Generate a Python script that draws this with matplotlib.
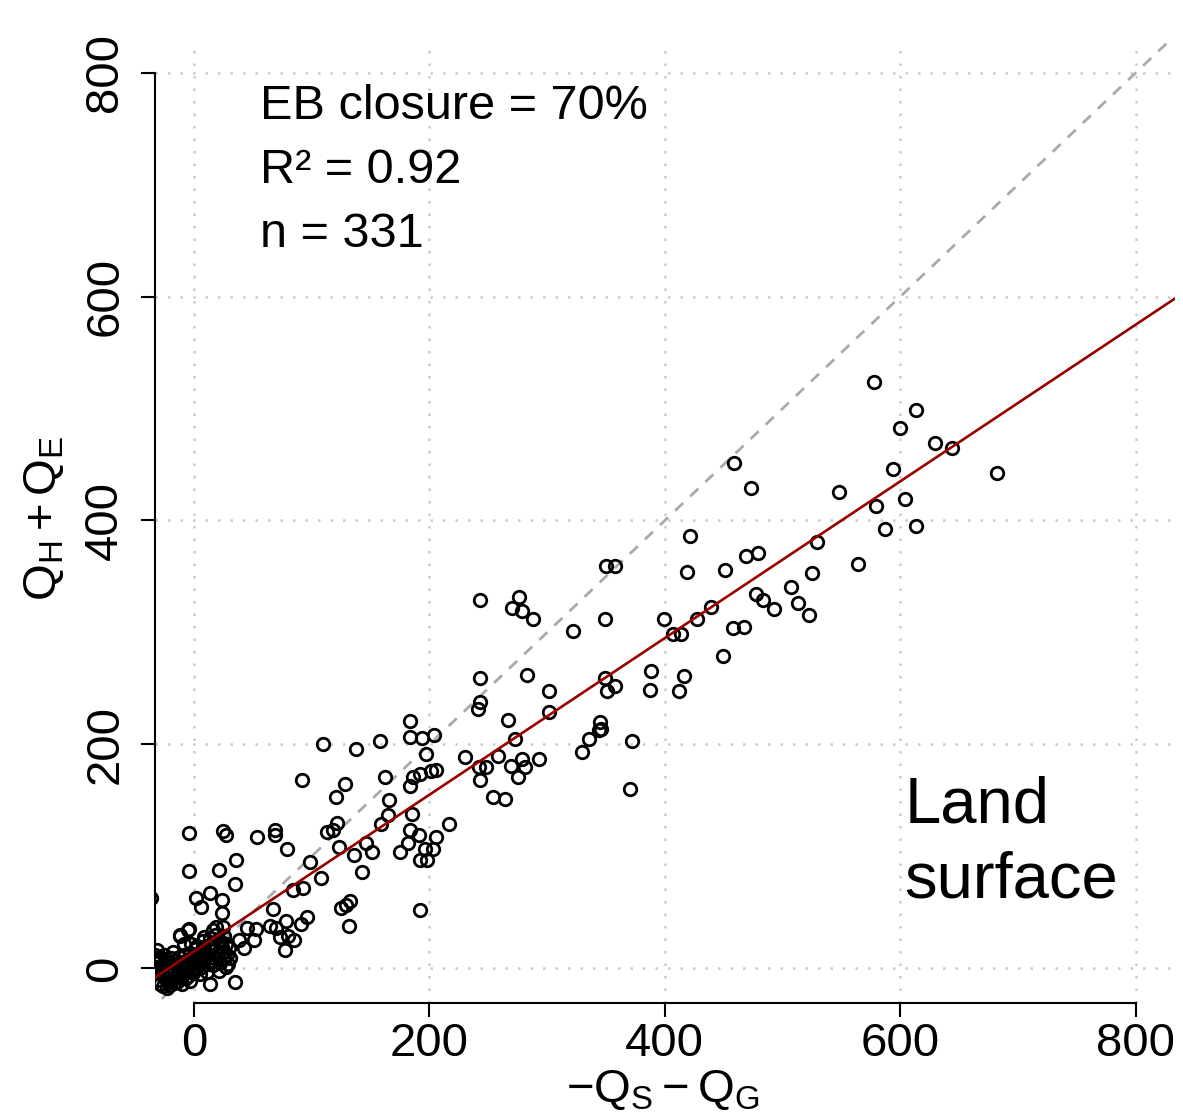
import numpy as np
import matplotlib
matplotlib.use("Agg")
import matplotlib.pyplot as plt

plt.rcParams['font.family'] = ['Liberation Sans', 'DejaVu Sans']
plt.rcParams['mathtext.fontset'] = 'custom'
plt.rcParams['mathtext.rm'] = 'Liberation Sans'
plt.rcParams['mathtext.it'] = 'Liberation Sans'

# available energy (-QS - QG) vs turbulent fluxes (QH + QE), W m-2
avail = [578, 613, 600, 629, 644, 682, 594, 548, 579, 604, 587, 613, 459, 473, 421, 529, 469, 479, 419, 451,
         525, 564, 507, 477, 483, 493, 513, 522, 439, 399, 427, 407, 414, 458, 467, 449, 388, 416, 387, 412,
         350, 358, 243, 276, 270, 279, 288, 349, 322, 243, 283, 243, 241, 302, 302, 349, 351, 358, 267, 273,
         345, 346, 344, 336, 330, 372, 370, 230, 258, 242, 248, 243, 269, 279, 281, 275, 293, 254, 264, 217,
         184, 184, 194, 204, 110, 138, 158, 197, 186, 192, 201, 206, 184, 162, 92, 128, 121, 166, 165, 159,
         185, 184, 191, 206, 122, 118, 113, 146, 151, 123, 136, 175, 182, 196, 203, 192, 198, 143, 99, 108,
         -4, -4, 25, 27, 54, 69, 69, 79, 36, 21, 35, 2, 14, 6, 24, 24, 84, 93, 67, 38,
         43, 45, 53, 51, 65, 70, 78, 96, 91, 73, 80, 85, 77, 14, 35, 125, 129, 133, 132, 192, -36,
         -12, -5, -18, -8, -2, -29, -25, -16, 9, 16, 19, 25, 9, 15, 21, 26, 5, 12, 18, 24,
         1, 9, 16, 28, 29, -8, -2, -13, -19, -25, -30, 26, 21, 5, -3, -10, -4, -12, 27,
         -32, -30, -28, -27, -26, -24, -23, -22, -21, -20, -19, -17, -16, -15, -14, -13, -12, -11, -10, -9,
         -8, -7, -6, -5, -4, -3, -2, -1, 0, 1, 2, 3, 4, 6, 7, 8, 10, 11, 12, 13,
         14, 17, 18, 20, 22, 23, 25, 27, 30, 31, -31, -29, -26, -23, -20, -17, -14, -33, -33, -31]
turb = [524, 499, 483, 469, 465, 442, 446, 425, 413, 419, 392, 395, 451, 429, 386, 381, 368, 371, 354, 356,
        353, 361, 341, 334, 329, 321, 326, 316, 323, 312, 312, 299, 299, 304, 305, 279, 266, 261, 249, 248,
        359, 359, 329, 332, 322, 319, 312, 312, 301, 259, 262, 238, 232, 248, 229, 259, 248, 252, 222, 205,
        220, 214, 213, 205, 193, 203, 160, 189, 190, 180, 180, 168, 181, 187, 180, 171, 187, 153, 151, 129,
        221, 207, 206, 208, 200, 196, 203, 191, 171, 174, 176, 177, 163, 171, 168, 165, 153, 150, 137, 129,
        138, 124, 119, 117, 130, 124, 122, 112, 104, 108, 101, 104, 112, 107, 107, 97, 97, 86, 95, 81,
        121, 87, 123, 119, 117, 124, 119, 107, 97, 88, 75, 63, 67, 55, 61, 49, 70, 72, 53, 25,
        18, 36, 35, 25, 38, 36, 42, 46, 40, 28, 29, 25, 16, -14, -12, 54, 57, 60, 38, 52, 63,
        30, 34, 15, 22, 22, 10, 12, 7, 28, 34, 37, 37, 19, 22, 25, 29, 12, 13, 16, 19,
        6, 7, 3, 12, 4, 1, -2, -3, -11, -8, -3, 9, -2, -5, -11, -14, 35, 29, 1,
        5, 8, 0, -5, 3, -2, 6, -12, 2, -6, 9, -2, -9, 4, -6, 10, 0, -8, 6, -4,
        12, -9, 3, -7, 8, 14, 5, -4, 10, 17, -1, 20, 4, 15, 1, 24, 10, -3, 20, 6,
        27, 9, 30, 12, 5, 23, 15, 22, 18, 9, -10, -14, -16, -18, -15, -13, -12, 0, 12, 16]

closure = 0.70
intercept = 15
r2 = 0.92
n_obs = 331
ticks = [0, 200, 400, 600, 800]

fig = plt.figure(figsize=(11.83, 11.15), dpi=100)
ax = fig.add_axes([0.131, 0.1004, 0.862, 0.8626])
ax.set_xlim(-33, 833)
ax.set_ylim(-31, 828)

# dotted grid
for t in ticks:
    ax.axhline(t, color='#cccccc', ls=(0, (1, 4)), lw=1.8, zorder=0)
    ax.axvline(t, color='#cccccc', ls=(0, (1, 4)), lw=1.8, zorder=0)

xx = np.array([-40, 840])
ax.plot(xx, xx, color='#aaaaaa', ls=(0, (4, 3.5)), lw=2.0, zorder=1)
ax.plot(avail, turb, 'o', mfc='none', mec='black', ms=9, mew=2.0, zorder=2)
ax.plot(xx, intercept + closure * xx, color='#990000', lw=1.9, zorder=3)

for s in ['top', 'right']:
    ax.spines[s].set_visible(False)
ax.spines['left'].set_bounds(0, 800)
ax.spines['bottom'].set_bounds(0, 800)
ax.spines['left'].set_linewidth(1.5)
ax.spines['bottom'].set_linewidth(1.5)
ax.set_xticks(ticks)
ax.set_yticks(ticks)
ax.tick_params(direction='out', length=10, width=1.5, labelsize=34)
ax.tick_params(axis='x', pad=4)
ax.tick_params(axis='y', pad=10)
for lab in ax.get_yticklabels():
    lab.set_rotation(90)
    lab.set_va('center')

fig.text(44 / 1183, 1 - 518 / 1115, r'$\mathrm{Q_H + Q_E}$', rotation=90,
         ha='center', va='center', fontsize=34)
fig.text(663 / 1183, 0.003, r'$\mathrm{-Q_S - Q_G}$', ha='center', va='bottom', fontsize=34)

ax.text(0.103, 0.919, 'EB closure = %d%%' % round(closure * 100), transform=ax.transAxes,
        fontsize=35, va='baseline')
ax.text(0.103, 0.853, 'R² = %.2f' % r2, transform=ax.transAxes, fontsize=35, va='baseline')
ax.text(0.103, 0.786, 'n = %d' % n_obs, transform=ax.transAxes, fontsize=35, va='baseline')
ax.text(0.735, 0.188, 'Land', transform=ax.transAxes, fontsize=47, va='baseline')
ax.text(0.735, 0.110, 'surface', transform=ax.transAxes, fontsize=47, va='baseline')

fig.savefig('out.png', dpi=100)
